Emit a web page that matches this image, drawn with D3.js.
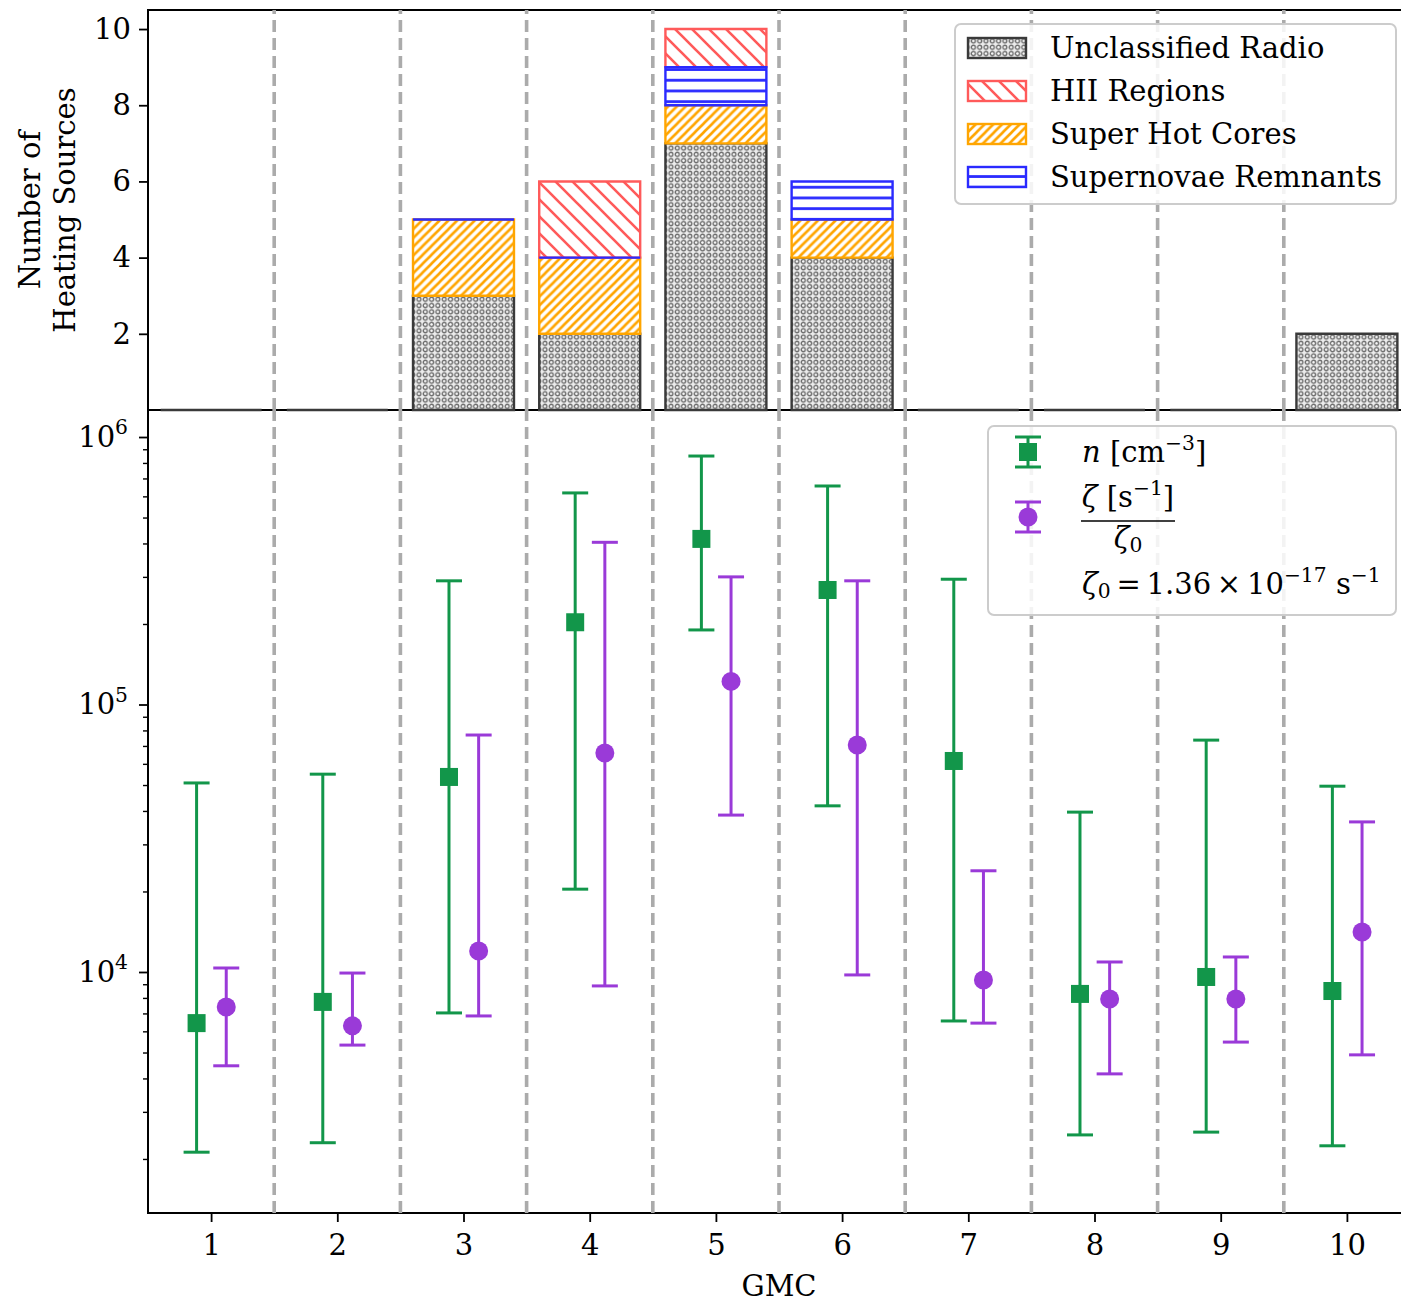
<!DOCTYPE html>
<html>
<head>
<meta charset="utf-8">
<script src="https://cdn.jsdelivr.net/npm/d3@7"></script>
<style>
  body { margin: 0; background: #fff; }
  text { font-family: "DejaVu Serif", serif; fill: #000; }
</style>
</head>
<body>
<script>
// GMC categories
var gmc = [1, 2, 3, 4, 5, 6, 7, 8, 9, 10];

// heating sources per GMC (null = not drawn, 0 = flat edge drawn)
var unclassified = [0, 0, 3, 2, 7, 4, 0, 0, 0, 2];
var hotCores     = [null, null, 2, 2, 1, 1, null, null, null, null];
var snRemnants   = [null, null, 0, 0, 1, 1, null, null, null, null];
var hiiRegions   = [null, null, null, 2, 1, null, null, null, null, null];

// density n [cm^-3]: value, lower, upper
var nVal = [6440, 7730, 53600, 203000, 416000, 268000, 61500, 8280, 9580, 8490];
var nLo  = [2120, 2300, 7030, 20400, 190000, 41800, 6560, 2460, 2520, 2240];
var nHi  = [50900, 54900, 290000, 618000, 849000, 656000, 294000, 39600, 73600, 49500];

// zeta / zeta0: value, lower, upper
var zVal = [7400, 6290, 11980, 65900, 122000, 70600, 9330, 7930, 7930, 14100];
var zLo  = [4460, 5330, 6850, 8870, 38600, 9750, 6440, 4160, 5470, 4900];
var zHi  = [10350, 9910, 76900, 404000, 300000, 290000, 23900, 10900, 11380, 36400];

var topTicks = [2, 4, 6, 8, 10];
var logTicks = [1e4, 1e5, 1e6];

var W = 1401, H = 1303;
var left = 148, right = 1410;
var topY0 = 10, topY1 = 410, botY1 = 1213;
var green = "#12964a", purple = "#9a3ad8";
var fs = 29;

var svg = d3.select("body").append("svg")
    .attr("width", W).attr("height", H);

var defs = svg.append("defs");

// hatch patterns
var pDots = defs.append("pattern").attr("id", "hDots")
    .attr("patternUnits", "userSpaceOnUse").attr("width", 6.3).attr("height", 6.3);
pDots.append("rect").attr("width", 6.3).attr("height", 6.3).attr("fill", "#ececec");
pDots.append("circle").attr("cx", 3.15).attr("cy", 3.15).attr("r", 2)
    .attr("fill", "#fafafa").attr("stroke", "#6a6a6a").attr("stroke-width", 1.3);

function diag(id, s, color, forward, sw) {
  var p = defs.append("pattern").attr("id", id)
      .attr("patternUnits", "userSpaceOnUse").attr("width", s).attr("height", s);
  p.append("rect").attr("width", s).attr("height", s).attr("fill", "#fff");
  var d = forward
    ? "M0," + s + "L" + s + ",0M" + (-s / 2) + "," + (s / 2) + "L" + (s / 2) + "," + (-s / 2) +
      "M" + (s / 2) + "," + (1.5 * s) + "L" + (1.5 * s) + "," + (s / 2)
    : "M0,0L" + s + "," + s + "M" + (-s / 2) + "," + (s / 2) + "L" + (s / 2) + "," + (1.5 * s) +
      "M" + (s / 2) + "," + (-s / 2) + "L" + (1.5 * s) + "," + (s / 2);
  p.append("path").attr("d", d).attr("stroke", color).attr("stroke-width", sw);
}
diag("hOrange", 8.8, "#ffa500", true, 2.6);
diag("hRed", 17, "#ff5a5a", false, 2.6);

var pBlue = defs.append("pattern").attr("id", "hBlue")
    .attr("patternUnits", "userSpaceOnUse").attr("width", 10).attr("height", 10.7);
pBlue.append("rect").attr("width", 10).attr("height", 10.7).attr("fill", "#fff");
pBlue.append("line").attr("x1", 0).attr("x2", 10).attr("y1", 5.35).attr("y2", 5.35)
    .attr("stroke", "#2a2aff").attr("stroke-width", 2.8);

// scales
var x = d3.scaleLinear().domain([0.5, 10.5]).range([left, right]);
var yTop = d3.scaleLinear().domain([0, 10.5]).range([topY1, topY0]);
var yBot = d3.scaleLog().domain([Math.pow(10, 3.099), Math.pow(10, 6.101)]).range([botY1, topY1]);

// spines
svg.append("line").attr("x1", left).attr("x2", W).attr("y1", topY0).attr("y2", topY0)
    .attr("stroke", "#000").attr("stroke-width", 2);
svg.append("line").attr("x1", left).attr("x2", W).attr("y1", topY1).attr("y2", topY1)
    .attr("stroke", "#000").attr("stroke-width", 2);
svg.append("line").attr("x1", left).attr("x2", W).attr("y1", botY1).attr("y2", botY1)
    .attr("stroke", "#000").attr("stroke-width", 2);
svg.append("line").attr("x1", left).attr("x2", left).attr("y1", topY0 - 1).attr("y2", botY1 + 1)
    .attr("stroke", "#000").attr("stroke-width", 2);

// dashed separators between GMCs
var seps = gmc.slice(0, -1).map(function(d) { return d + 0.5; });
[[topY1, topY0], [botY1, topY1]].forEach(function(r) {
  svg.append("g").selectAll("line").data(seps).enter().append("line")
      .attr("x1", function(d) { return x(d); }).attr("x2", function(d) { return x(d); })
      .attr("y1", r[0]).attr("y2", r[1])
      .attr("stroke", "#ababab").attr("stroke-width", 3.6)
      .attr("stroke-dasharray", "12,6");
});

// stacked bars (paths so zero-height bars still show their edge)
var bw = (x(1) - x(0)) * 0.8;
var base0 = gmc.map(function() { return 0; });
var base1 = unclassified.map(function(v, i) { return v + (hotCores[i] || 0); });
var base2 = base1.map(function(v, i) { return v + (snRemnants[i] || 0); });

function drawBars(vals, bottoms, fill, stroke) {
  var data = gmc.map(function(g, i) { return {g: g, v: vals[i], b: bottoms[i]}; })
      .filter(function(d) { return d.v !== null; });
  svg.append("g").selectAll("path").data(data).enter().append("path")
      .attr("d", function(d) {
        var x0 = x(d.g) - bw / 2, y0 = yTop(d.b), y1 = yTop(d.b + d.v);
        return "M" + x0 + "," + y0 + "H" + (x0 + bw) + "V" + y1 + "H" + x0 + "Z";
      })
      .attr("fill", fill).attr("stroke", stroke).attr("stroke-width", 2.4);
}
drawBars(unclassified, base0, "url(#hDots)", "#3a3a3a");
drawBars(hotCores, unclassified, "url(#hOrange)", "#ffa500");
drawBars(hiiRegions, base2, "url(#hRed)", "#ff5a5a");
drawBars(snRemnants, base1, "url(#hBlue)", "#2a2aff");

// top axis
var axTop = svg.append("g").attr("transform", "translate(" + left + ",0)")
    .call(d3.axisLeft(yTop).tickValues(topTicks).tickSize(9).tickPadding(8).tickSizeOuter(0));
axTop.select(".domain").remove();
axTop.selectAll("line").attr("stroke", "#000").attr("stroke-width", 1.8);
axTop.selectAll("text").attr("font-family", "DejaVu Serif").attr("font-size", fs).attr("fill", "#000");

// bottom log axis
var axBot = svg.append("g").attr("transform", "translate(" + left + ",0)")
    .call(d3.axisLeft(yBot).tickValues(logTicks).tickSize(9).tickPadding(11).tickSizeOuter(0));
axBot.select(".domain").remove();
axBot.selectAll("line").attr("stroke", "#000").attr("stroke-width", 1.8);
axBot.selectAll("text").each(function(d) {
  var t = d3.select(this).text("").attr("font-family", "DejaVu Serif")
      .attr("font-size", fs).attr("fill", "#000");
  t.append("tspan").text("10");
  t.append("tspan").attr("font-size", fs * 0.7).attr("dy", "-0.62em")
      .text(Math.round(Math.log10(d)));
});

var minors = [];
[1e3, 1e4, 1e5].forEach(function(dec) {
  for (var k = 2; k <= 9; k++) minors.push(k * dec);
});
minors = minors.filter(function(v) { return v >= yBot.domain()[0] && v <= yBot.domain()[1]; });
var axMin = svg.append("g").attr("transform", "translate(" + left + ",0)")
    .call(d3.axisLeft(yBot).tickValues(minors).tickSize(5).tickFormat("").tickSizeOuter(0));
axMin.select(".domain").remove();
axMin.selectAll("line").attr("stroke", "#000").attr("stroke-width", 1.4);

// x axis
var axX = svg.append("g").attr("transform", "translate(0," + botY1 + ")")
    .call(d3.axisBottom(x).tickValues(gmc).tickSize(9).tickPadding(12).tickSizeOuter(0));
axX.select(".domain").remove();
axX.selectAll("line").attr("stroke", "#000").attr("stroke-width", 1.8);
axX.selectAll("text").attr("font-family", "DejaVu Serif").attr("font-size", fs).attr("fill", "#000");

svg.append("text").attr("x", (left + right) / 2).attr("y", 1296)
    .attr("text-anchor", "middle").attr("font-size", fs).text("GMC");

var yl = svg.append("text").attr("transform", "translate(48,210) rotate(-90)")
    .attr("text-anchor", "middle").attr("font-size", fs);
yl.append("tspan").attr("x", 0).attr("y", -8).text("Number of");
yl.append("tspan").attr("x", 0).attr("y", 27).text("Heating Sources");

// error bars
function errorBars(vals, lo, hi, off, color, shape) {
  var data = gmc.map(function(g, i) { return {g: g, v: vals[i], lo: lo[i], hi: hi[i]}; });
  var g = svg.append("g");
  var e = g.selectAll("g").data(data).enter().append("g")
      .attr("transform", function(d) { return "translate(" + x(d.g + off) + ",0)"; });
  e.append("line").attr("y1", function(d) { return yBot(d.lo); })
      .attr("y2", function(d) { return yBot(d.hi); })
      .attr("stroke", color).attr("stroke-width", 3);
  ["lo", "hi"].forEach(function(k) {
    e.append("line").attr("x1", -13).attr("x2", 13)
        .attr("y1", function(d) { return yBot(d[k]); })
        .attr("y2", function(d) { return yBot(d[k]); })
        .attr("stroke", color).attr("stroke-width", 3);
  });
  if (shape === "square") {
    e.append("rect").attr("x", -9).attr("width", 18).attr("height", 18)
        .attr("y", function(d) { return yBot(d.v) - 9; }).attr("fill", color);
  } else {
    e.append("circle").attr("r", 9.5).attr("cy", function(d) { return yBot(d.v); })
        .attr("fill", color);
  }
}
errorBars(nVal, nLo, nHi, -0.115, green, "square");
errorBars(zVal, zLo, zHi, 0.12, purple, "circle");

// legend (top)
var legTop = svg.append("g");
legTop.append("rect").attr("x", 955).attr("y", 24).attr("width", 441).attr("height", 180)
    .attr("rx", 6).attr("fill", "#fff").attr("fill-opacity", 0.85)
    .attr("stroke", "#cccccc").attr("stroke-width", 2);
var legItems = [
  {label: "Unclassified Radio", fill: "url(#hDots)", stroke: "#3a3a3a"},
  {label: "HII Regions", fill: "url(#hRed)", stroke: "#ff5a5a"},
  {label: "Super Hot Cores", fill: "url(#hOrange)", stroke: "#ffa500"},
  {label: "Supernovae Remnants", fill: "url(#hBlue)", stroke: "#2a2aff"}
];
legItems.forEach(function(d, i) {
  var cy = 48 + i * 43;
  legTop.append("rect").attr("x", 968).attr("y", cy - 10).attr("width", 58).attr("height", 20)
      .attr("fill", d.fill).attr("stroke", d.stroke).attr("stroke-width", 2.4);
  legTop.append("text").attr("x", 1050).attr("y", cy).attr("dy", "0.36em")
      .attr("font-size", fs).text(d.label);
});

// legend (bottom)
var legBot = svg.append("g");
legBot.append("rect").attr("x", 988).attr("y", 426).attr("width", 408).attr("height", 189)
    .attr("rx", 6).attr("fill", "#fff").attr("fill-opacity", 0.85)
    .attr("stroke", "#cccccc").attr("stroke-width", 2);
function legErr(cy, color, shape) {
  var g = legBot.append("g").attr("transform", "translate(1028," + cy + ")");
  g.append("line").attr("y1", -15).attr("y2", 15).attr("stroke", color).attr("stroke-width", 3);
  g.append("line").attr("x1", -13).attr("x2", 13).attr("y1", -15).attr("y2", -15)
      .attr("stroke", color).attr("stroke-width", 3);
  g.append("line").attr("x1", -13).attr("x2", 13).attr("y1", 15).attr("y2", 15)
      .attr("stroke", color).attr("stroke-width", 3);
  if (shape === "square") g.append("rect").attr("x", -9).attr("y", -9).attr("width", 18).attr("height", 18).attr("fill", color);
  else g.append("circle").attr("r", 9.5).attr("fill", color);
}
legErr(452, green, "square");
legErr(517, purple, "circle");

var t1 = legBot.append("text").attr("x", 1082).attr("y", 452).attr("dy", "0.36em").attr("font-size", fs);
t1.append("tspan").attr("font-style", "italic").text("n");
t1.append("tspan").text(" [cm");
t1.append("tspan").attr("font-size", fs * 0.7).attr("dy", "-0.6em").text("\u22123");
t1.append("tspan").attr("dy", "0.42em").text("]");

var num = legBot.append("text").attr("x", 1128).attr("y", 507).attr("text-anchor", "middle").attr("font-size", fs);
num.append("tspan").attr("font-style", "italic").text("\u03b6");
num.append("tspan").text(" [s");
num.append("tspan").attr("font-size", fs * 0.7).attr("dy", "-0.6em").text("\u22121");
num.append("tspan").attr("dy", "0.42em").text("]");
legBot.append("line").attr("x1", 1081).attr("x2", 1175).attr("y1", 521).attr("y2", 521)
    .attr("stroke", "#000").attr("stroke-width", 1.6);
var den = legBot.append("text").attr("x", 1128).attr("y", 548).attr("text-anchor", "middle").attr("font-size", fs);
den.append("tspan").attr("font-style", "italic").text("\u03b6");
den.append("tspan").attr("font-size", fs * 0.7).attr("dy", "0.2em").text("0");

var t3 = legBot.append("text").attr("x", 1082).attr("y", 594).attr("font-size", fs);
t3.append("tspan").attr("font-style", "italic").text("\u03b6");
t3.append("tspan").attr("font-size", fs * 0.7).attr("dy", "0.2em").text("0");
t3.append("tspan").attr("dy", "-0.14em").text("\u2009=\u20091.36\u2009\u00d7\u200910");
t3.append("tspan").attr("font-size", fs * 0.7).attr("dy", "-0.6em").text("\u221217");
t3.append("tspan").attr("dy", "0.42em").text(" s");
t3.append("tspan").attr("font-size", fs * 0.7).attr("dy", "-0.6em").text("\u22121");
</script>
</body>
</html>
